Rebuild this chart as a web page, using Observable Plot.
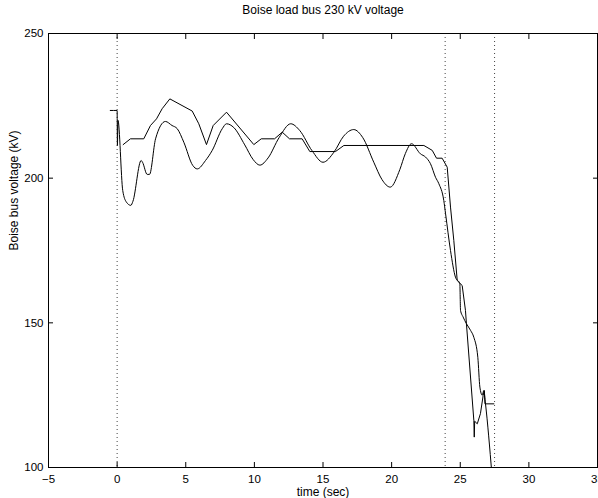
<!DOCTYPE html>
<html><head><meta charset="utf-8">
<script src="https://cdn.jsdelivr.net/npm/d3@7"></script>
<script src="https://cdn.jsdelivr.net/npm/@observablehq/plot@0.6"></script>
<style>body{margin:0;background:#fff;}</style>
</head><body><div id="chart"></div>
<script>
// Lower (smooth, oscillating) voltage trace
const tA = [-0.5, 0, 0.02, 0.06, 0.41, 0.68, 1.0, 1.15, 1.75, 1.85, 2.19, 2.36, 2.8, 3.52, 4.0, 4.38, 4.86, 5.51, 5.84, 6.44, 6.93, 7.66, 7.97, 8.5, 9.3, 9.9, 10.4, 11.0, 11.8, 12.65, 13.3, 14.2, 15.0, 15.8, 16.5, 17.24, 17.9, 18.7, 19.3, 19.9, 20.6, 21.0, 21.45, 22.1, 22.47, 22.83, 23.2, 23.44, 23.8, 23.93, 24.29, 24.65, 24.97, 25.02, 25.21, 25.45, 25.75, 25.99, 26.28, 26.43, 26.6, 26.72, 26.84, 27.3];
const vA = [223.4, 223.4, 211.3, 220, 195.7, 191.7, 190.6, 192, 206.1, 205.5, 201.3, 201.3, 213.6, 219.6, 218.2, 217.1, 212.4, 204.4, 203.2, 206.1, 209.6, 217.1, 218.8, 217.5, 211.5, 206.5, 204.5, 207, 214, 218.8, 216.5, 209.5, 205.5, 209, 214.5, 216.8, 214, 205.5, 199.5, 196.9, 203, 208.5, 211.9, 208.4, 207.3, 205, 200.3, 198.1, 192.3, 187.7, 175, 165.8, 163.5, 154.3, 152, 149.7, 147.4, 145, 138.1, 127.8, 125, 126.6, 122, 98];
// Upper (piecewise) voltage trace
const tB = [0.44, 0.97, 1.94, 2.43, 2.87, 3.28, 3.84, 5.47, 5.95, 6.51, 7.0, 7.97, 9.96, 10.5, 11.47, 12.03, 12.56, 13.48, 14.04, 15.91, 16.52, 22.35, 22.96, 23.27, 23.68, 24.05, 24.29, 24.53, 24.78, 25.14, 25.38, 25.45, 25.99, 26.02, 26.05, 26.24, 26.47, 26.67, 26.75, 26.8, 27.45];
const vB = [211.6, 213.6, 213.6, 218.2, 220.5, 224, 227.4, 223.2, 218.8, 211.6, 218.2, 222.8, 211.6, 213.6, 213.6, 215.9, 213.6, 213.6, 209.2, 209.2, 211.3, 211.3, 209.6, 206.9, 206.9, 203.8, 190, 178.5, 164.6, 162.9, 154.3, 149.7, 116.3, 110.5, 116, 115.1, 118.6, 124.9, 126.6, 122, 122];
const eventTimes = [0, 23.9, 27.5];
const xTicks = [-5, 0, 5, 10, 15, 20, 25, 30, 35];
const yTicks = [100, 150, 200, 250];
const titleText = "Boise load bus 230 kV voltage";
const xLabel = "time (sec)";
const yLabel = "Boise bus voltage (kV)";

const seriesA = tA.map((t, i) => ({t, v: vA[i]}));
const seriesB = tB.map((t, i) => ({t, v: vB[i]}));

const chart = Plot.plot({
  width: 598, height: 498,
  marginLeft: 48, marginRight: 1, marginTop: 33, marginBottom: 31,
  style: {fontFamily: "'Liberation Sans', Arial, Helvetica, sans-serif", fontSize: "11.5px", background: "#fff", color: "#000"},
  x: {domain: [-5, 35]},
  y: {domain: [100, 250]},
  marks: [
    Plot.ruleX(eventTimes, {x: d => d, stroke: "#444", strokeDasharray: "1,3"}),
    Plot.line(seriesA, {x: "t", y: "v", stroke: "#000", strokeWidth: 1, curve: "monotone-x", clip: true}),
    Plot.line(seriesB, {x: "t", y: "v", stroke: "#000", strokeWidth: 1, clip: true}),
    Plot.frame({stroke: "#000", strokeWidth: 1}),
    Plot.axisX({anchor: "bottom", ticks: xTicks, tickSize: -5, tickPadding: 12, label: null}),
    Plot.axisX({anchor: "top", ticks: xTicks, tickSize: -5, fill: "none", label: null}),
    Plot.axisY({anchor: "left", ticks: yTicks, tickSize: -5, tickPadding: 10, label: null}),
    Plot.axisY({anchor: "right", ticks: yTicks, tickSize: -5, fill: "none", label: null}),
    Plot.text([titleText], {text: d => d, frameAnchor: "top", dy: -23, lineAnchor: "middle", fontSize: 12}),
    Plot.text([xLabel], {text: d => d, frameAnchor: "bottom", dy: 24.5, lineAnchor: "middle", fontSize: 12}),
    Plot.text([yLabel], {text: d => d, frameAnchor: "left", dx: -34, rotate: -90, lineAnchor: "middle", fontSize: 12})
  ]
});
document.getElementById("chart").appendChild(chart);
</script>
</body></html>
